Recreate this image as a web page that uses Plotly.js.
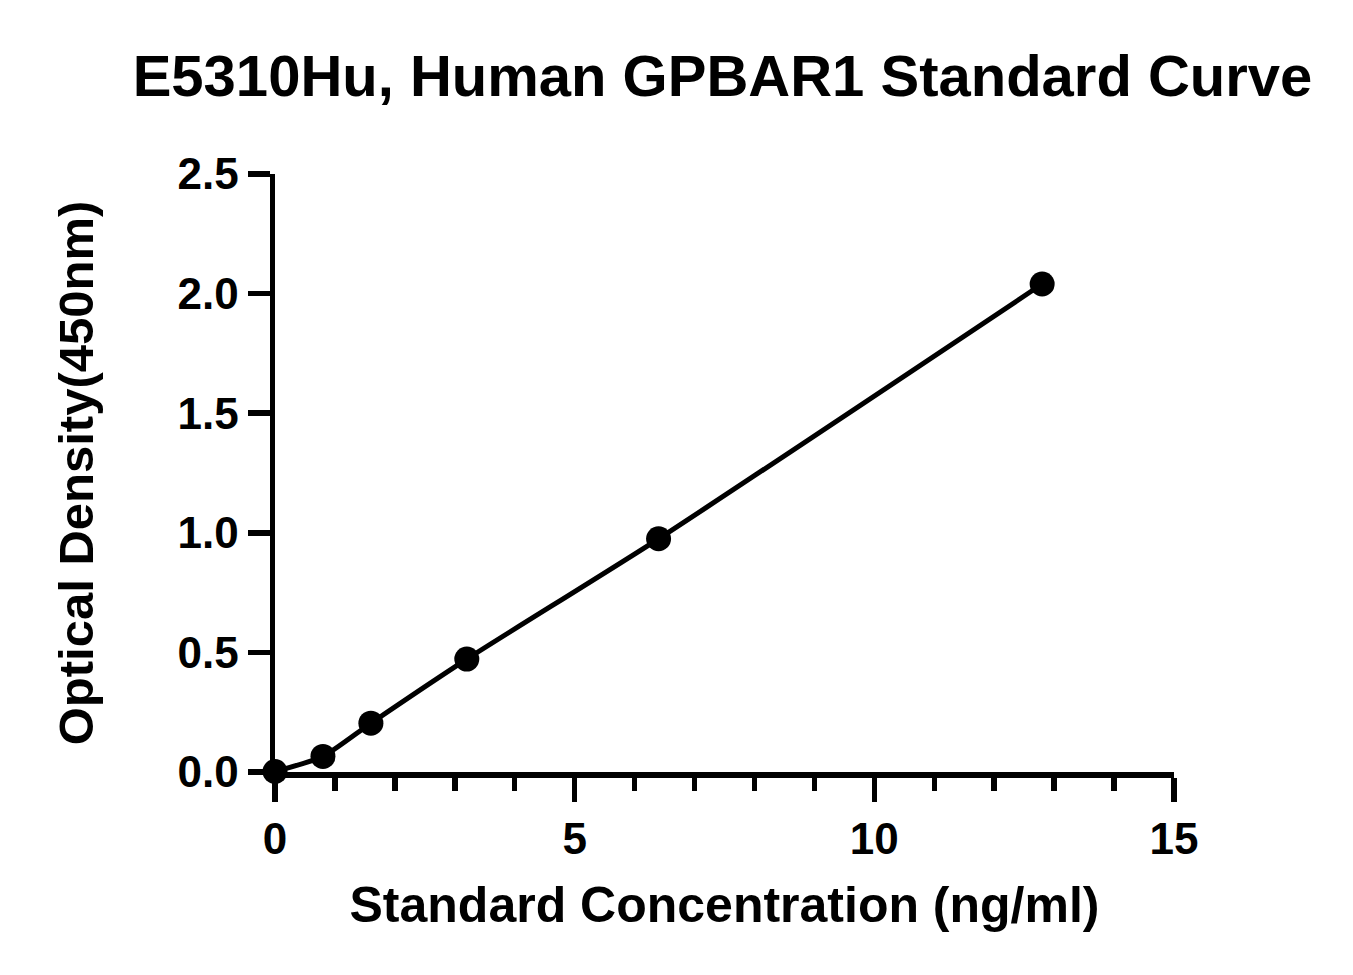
<!DOCTYPE html>
<html>
<head>
<meta charset="utf-8">
<script src="https://cdn.plot.ly/plotly-3.0.1.min.js"></script>
<style>
  html, body { margin: 0; padding: 0; background: #fff; }
  #chart { width: 1353px; height: 975px; }
</style>
</head>
<body>
<div id="chart"></div>
<script>
// standard concentrations (ng/ml) and measured OD at 450nm
const concentration = [0, 0.8, 1.6, 3.2, 6.4, 12.8];
const opticalDensity = [0.002, 0.065, 0.204, 0.472, 0.975, 2.040];

const xTicks = [0, 5, 10, 15];
const yTicks = [0.0, 0.5, 1.0, 1.5, 2.0, 2.5];
const yTickText = ['0.0', '0.5', '1.0', '1.5', '2.0', '2.5'];

const FONT = 'Arial, "Liberation Sans", sans-serif';

const curve = {
  x: concentration,
  y: opticalDensity,
  type: 'scatter',
  mode: 'lines+markers',
  line: { shape: 'spline', smoothing: 0.6, width: 5, color: '#000' },
  marker: { size: 25, color: '#000' },
  cliponaxis: false,
  showlegend: false,
  hoverinfo: 'skip'
};

const layout = {
  width: 1353,
  height: 975,
  paper_bgcolor: '#fff',
  plot_bgcolor: '#fff',
  margin: { l: 275, r: 179, t: 174, b: 203 },
  font: { family: FONT, color: '#000', weight: 'bold' },
  title: {
    text: 'E5310Hu, Human GPBAR1 Standard Curve',
    font: { family: FONT, size: 58, color: '#000', weight: 'bold' },
    xref: 'container', yref: 'container',
    x: 0.534, xanchor: 'center',
    y: 0.922, yanchor: 'middle'
  },
  xaxis: {
    range: [0, 15],
    tickvals: xTicks,
    ticktext: xTicks.map(String),
    ticks: 'outside',
    ticklen: 24,
    tickwidth: 5.5,
    tickcolor: '#000',
    minor: { dtick: 1, ticks: 'outside', ticklen: 13, tickwidth: 5.5, tickcolor: '#000' },
    showline: true,
    linewidth: 5.5,
    linecolor: '#000',
    showgrid: false,
    zeroline: false,
    tickfont: { family: FONT, size: 44, color: '#000', weight: 'bold' },
    title: {
      text: 'Standard Concentration (ng/ml)',
      font: { family: FONT, size: 50, color: '#000', weight: 'bold' },
      standoff: 26
    },
    automargin: false
  },
  yaxis: {
    range: [0, 2.5],
    tickvals: yTicks,
    ticktext: yTickText,
    ticks: 'outside',
    ticklen: 22,
    tickwidth: 5.5,
    tickcolor: '#000',
    showline: true,
    linewidth: 5.5,
    linecolor: '#000',
    showgrid: false,
    zeroline: false,
    tickfont: { family: FONT, size: 44, color: '#000', weight: 'bold' },
    title: {
      text: 'Optical Density(450nm)',
      font: { family: FONT, size: 49, color: '#000', weight: 'bold' },
      standoff: 70
    },
    automargin: false
  }
};

Plotly.newPlot('chart', [curve], layout, { displayModeBar: false, staticPlot: true });
</script>
</body>
</html>
